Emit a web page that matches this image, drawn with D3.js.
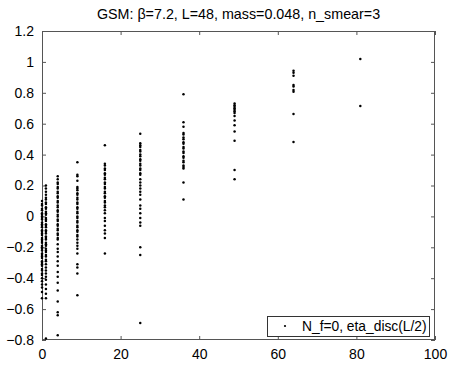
<!DOCTYPE html>
<html>
<head>
<meta charset="utf-8">
<script src="https://cdn.jsdelivr.net/npm/d3@7"></script>
<style>
  html, body { margin: 0; padding: 0; background: #fff; }
  text { font-family: "Liberation Sans", Arial, Helvetica, sans-serif; fill: #000; }
</style>
</head>
<body>
<svg id="chart" width="454" height="378"></svg>
<script>
// ---- data ----
const title = "GSM: β=7.2, L=48, mass=0.048, n_smear=3";
const legendLabel = "N_f=0, eta_disc(L/2)";
const xTicks = [0, 20, 40, 60, 80, 100];
const yTicks = [-0.8, -0.6, -0.4, -0.2, 0, 0.2, 0.4, 0.6, 0.8, 1, 1.2];
const xPositions = [0, 1, 4, 9, 16, 25, 36, 49, 64, 81];

const y0 = [0.10, 0.08, 0.07, 0.05, 0.04, 0.02, 0.01, 0.00, -0.01, -0.02, -0.04, -0.05, -0.06, -0.07, -0.09, -0.10,
  -0.11, -0.12, -0.14, -0.15, -0.16, -0.17, -0.19, -0.20, -0.21, -0.22, -0.24, -0.25, -0.26, -0.27, -0.29, -0.30,
  -0.31, -0.32, -0.34, -0.35, -0.37, -0.38, -0.40, -0.42, -0.44, -0.46, -0.49, -0.53];
const y1 = [0.20, 0.18, 0.16, 0.14, 0.12, 0.11, 0.09, 0.08, 0.06, 0.05, 0.03, 0.02, 0.01, -0.01, -0.02, -0.03,
  -0.05, -0.06, -0.07, -0.09, -0.10, -0.11, -0.13, -0.14, -0.15, -0.17, -0.18, -0.19, -0.21, -0.22, -0.23, -0.25,
  -0.26, -0.28, -0.29, -0.31, -0.33, -0.35, -0.37, -0.39, -0.41, -0.44, -0.47, -0.50, -0.53, -0.79];
const y4 = [0.26, 0.24, 0.22, 0.21, 0.19, 0.18, 0.16, 0.15, 0.13, 0.12, 0.10, 0.09, 0.07, 0.06, 0.04, 0.03, 0.01,
  0.00, -0.02, -0.03, -0.05, -0.06, -0.08, -0.09, -0.11, -0.12, -0.14, -0.15, -0.18, -0.21, -0.23, -0.26, -0.29,
  -0.32, -0.36, -0.39, -0.43, -0.48, -0.55, -0.62, -0.64, -0.77];
const y9 = [0.35, 0.27, 0.26, 0.23, 0.19, 0.18, 0.17, 0.15, 0.14, 0.12, 0.11, 0.09, 0.08, 0.06, 0.05, 0.03, 0.02,
  0.00, -0.01, -0.03, -0.04, -0.06, -0.07, -0.09, -0.10, -0.12, -0.13, -0.15, -0.17, -0.19, -0.21, -0.24, -0.31,
  -0.33, -0.37, -0.51];
const y16 = [0.46, 0.34, 0.33, 0.31, 0.30, 0.28, 0.27, 0.25, 0.24, 0.22, 0.21, 0.19, 0.18, 0.16, 0.15, 0.13, 0.12,
  0.10, 0.09, 0.07, 0.06, 0.04, 0.02, -0.01, -0.03, -0.06, -0.09, -0.11, -0.14, -0.24];
const y25 = [0.535, 0.473, 0.46, 0.45, 0.43, 0.42, 0.40, 0.39, 0.37, 0.36, 0.34, 0.33, 0.31, 0.30, 0.28, 0.27,
  0.24, 0.22, 0.20, 0.18, 0.16, 0.14, 0.11, 0.07, 0.05, 0.02, -0.01, -0.04, -0.06, -0.20, -0.25, -0.69];
const y36 = [0.79, 0.61, 0.58, 0.54, 0.53, 0.51, 0.50, 0.48, 0.47, 0.45, 0.44, 0.42, 0.41, 0.39, 0.38, 0.36, 0.35,
  0.33, 0.32, 0.31, 0.22, 0.11];
const y49 = [0.73, 0.72, 0.71, 0.70, 0.69, 0.68, 0.67, 0.65, 0.62, 0.59, 0.55, 0.49, 0.30, 0.24];
const y64 = [0.943, 0.93, 0.911, 0.85, 0.84, 0.818, 0.807, 0.663, 0.482];
const y81 = [1.019, 0.715];

const columns = [y0, y1, y4, y9, y16, y25, y36, y49, y64, y81];
const points = [];
xPositions.forEach((xv, i) => columns[i].forEach(yv => points.push({ x: xv, y: yv })));

// ---- layout ----
const svg = d3.select("#chart");
const mLeft = 42, mRight = 435, mTop = 31, mBottom = 340;
const axisColor = "#555";

const x = d3.scaleLinear().domain([0, 100]).range([mLeft, mRight]);
const y = d3.scaleLinear().domain([-0.8, 1.2]).range([mBottom, mTop]);

svg.append("rect").attr("width", 454).attr("height", 378).attr("fill", "#fff");

// title
svg.append("text")
  .attr("x", (mLeft + mRight) / 2).attr("y", 19)
  .attr("text-anchor", "middle")
  .style("font-size", "14.3px")
  .text(title);

const fmt = d => (Math.round(d * 10) / 10).toString().replace("-", "\u2212");

// bottom axis (ticks inside)
svg.append("g").attr("transform", `translate(0,${mBottom})`)
  .call(d3.axisBottom(x).tickValues(xTicks).tickSizeInner(-4).tickSizeOuter(0).tickPadding(9).tickFormat(fmt))
  .call(g => g.select(".domain").remove())
  .call(g => g.selectAll("line").attr("stroke", axisColor))
  .call(g => g.selectAll("text").style("font-size", "14px").attr("font-family", null));

// top axis ticks
svg.append("g").attr("transform", `translate(0,${mTop})`)
  .call(d3.axisTop(x).tickValues(xTicks).tickSizeInner(-4).tickSizeOuter(0).tickFormat(""))
  .call(g => g.select(".domain").remove())
  .call(g => g.selectAll("line").attr("stroke", axisColor));

// left axis
svg.append("g").attr("transform", `translate(${mLeft},0)`)
  .call(d3.axisLeft(y).tickValues(yTicks).tickSizeInner(-4).tickSizeOuter(0).tickPadding(8).tickFormat(fmt))
  .call(g => g.select(".domain").remove())
  .call(g => g.selectAll("line").attr("stroke", axisColor))
  .call(g => g.selectAll("text").style("font-size", "14px").attr("font-family", null));

// right axis ticks
svg.append("g").attr("transform", `translate(${mRight},0)`)
  .call(d3.axisRight(y).tickValues(yTicks).tickSizeInner(-4).tickSizeOuter(0).tickFormat(""))
  .call(g => g.select(".domain").remove())
  .call(g => g.selectAll("line").attr("stroke", axisColor));

// box
svg.append("rect")
  .attr("x", mLeft + 0.5).attr("y", mTop + 0.5)
  .attr("width", mRight - mLeft - 1).attr("height", mBottom - mTop - 1)
  .attr("fill", "none").attr("stroke", axisColor).attr("stroke-width", 1);

// points
svg.append("g").selectAll("circle").data(points).join("circle")
  .attr("cx", d => x(d.x)).attr("cy", d => y(d.y))
  .attr("r", 1.25).attr("fill", "#000");

// legend
const lg = svg.append("g");
lg.append("rect").attr("x", 267.5).attr("y", 316.5).attr("width", 162).attr("height", 20)
  .attr("fill", "#fff").attr("stroke", "#333");
lg.append("circle").attr("cx", 285).attr("cy", 326).attr("r", 1.1).attr("fill", "#000");
lg.append("text").attr("x", 302).attr("y", 331).style("font-size", "13.8px").text(legendLabel);
</script>
</body>
</html>
